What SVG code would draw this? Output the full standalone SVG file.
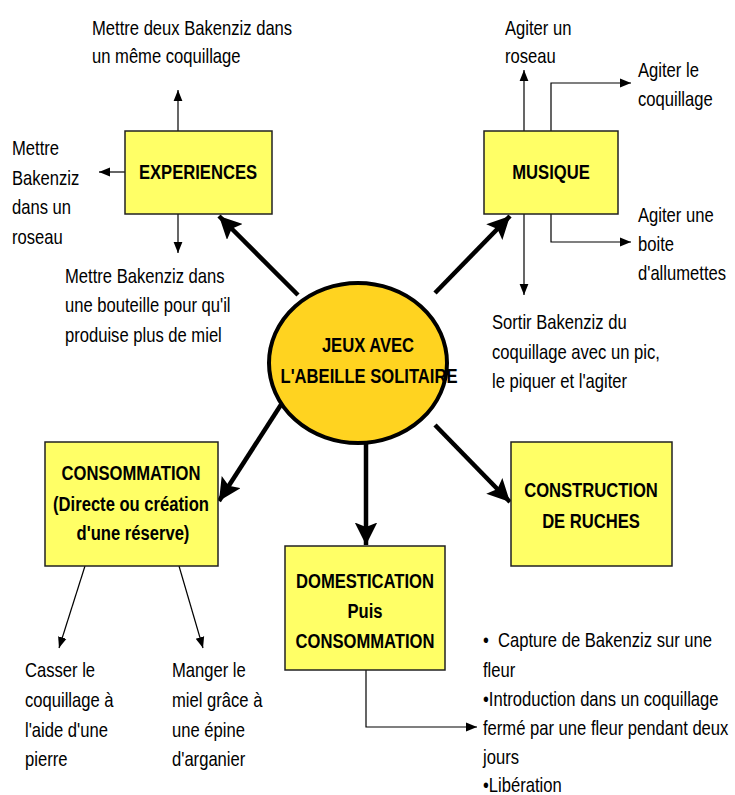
<svg xmlns="http://www.w3.org/2000/svg" width="735" height="795" viewBox="0 0 735 795">
<style>
text{font-family:"Liberation Sans",Arial,sans-serif;font-size:20.5px;fill:#000}
.b{font-weight:bold;text-anchor:middle}
.box{fill:#FFFF66;stroke:#222;stroke-width:1.5}
.thick{stroke:#000;stroke-width:4.5;fill:none}
.thin{stroke:#000;stroke-width:1.2;fill:none}
</style>
<defs>
<marker id="big" viewBox="0 0 10 10" refX="10" refY="5" markerWidth="5" markerHeight="5" markerUnits="strokeWidth" orient="auto"><path d="M0,0 L10,5 L0,10 L2,5 z" fill="#000"/></marker>
<marker id="sm" viewBox="0 0 10 10" refX="10" refY="5" markerWidth="11" markerHeight="11" markerUnits="userSpaceOnUse" orient="auto"><path d="M0,1 L10,5 L0,9 z" fill="#000"/></marker>
</defs>
<g id="connectors">
<line class="thick" x1="298" y1="295" x2="219" y2="216" marker-end="url(#big)"/>
<line class="thick" x1="435" y1="293" x2="510" y2="216" marker-end="url(#big)"/>
<line class="thick" x1="284" y1="400" x2="219" y2="501" marker-end="url(#big)"/>
<line class="thick" x1="366" y1="443" x2="366" y2="545" marker-end="url(#big)"/>
<line class="thick" x1="435" y1="425" x2="510" y2="502" marker-end="url(#big)"/>
<line class="thin" x1="178" y1="131" x2="178" y2="90" marker-end="url(#sm)"/>
<line class="thin" x1="125" y1="172" x2="99" y2="172" marker-end="url(#sm)"/>
<line class="thin" x1="178" y1="214" x2="178" y2="253" marker-end="url(#sm)"/>
<line class="thin" x1="524" y1="131" x2="524" y2="70" marker-end="url(#sm)"/>
<polyline class="thin" points="551,131 551,83 631,83" marker-end="url(#sm)"/>
<polyline class="thin" points="551,214 551,242 631,242" marker-end="url(#sm)"/>
<line class="thin" x1="524" y1="214" x2="524" y2="295" marker-end="url(#sm)"/>
<line class="thin" x1="85" y1="566" x2="59" y2="648" marker-end="url(#sm)"/>
<line class="thin" x1="179" y1="566" x2="203" y2="648" marker-end="url(#sm)"/>
<polyline class="thin" points="366,670 366,727 477,727" marker-end="url(#sm)"/>
</g>
<g id="center">
<ellipse cx="358" cy="363" rx="89" ry="80" fill="#FFD320" stroke="#000" stroke-width="4"/>
<text class="b" transform="translate(368 352) scale(0.81 1)">JEUX AVEC</text>
<text class="b" transform="translate(369 383) scale(0.81 1)">L'ABEILLE SOLITAIRE</text>
</g>
<g id="experiences">
<rect class="box" x="125" y="131" width="147" height="83"/>
<text class="b" transform="translate(198 179) scale(0.81 1)">EXPERIENCES</text>
</g>
<g id="musique">
<rect class="box" x="484" y="131" width="134" height="83"/>
<text class="b" transform="translate(551 179) scale(0.81 1)">MUSIQUE</text>
</g>
<g id="consommation">
<rect class="box" x="45" y="442" width="173" height="124"/>
<text class="b" transform="translate(131 480) scale(0.81 1)">CONSOMMATION</text>
<text class="b" transform="translate(131 511) scale(0.81 1)">(Directe ou création</text>
<text class="b" transform="translate(133 540) scale(0.81 1)">d'une réserve)</text>
</g>
<g id="domestication">
<rect class="box" x="285" y="546" width="160" height="124"/>
<text class="b" transform="translate(365 588) scale(0.81 1)">DOMESTICATION</text>
<text class="b" transform="translate(365 618) scale(0.81 1)">Puis</text>
<text class="b" transform="translate(365 648) scale(0.81 1)">CONSOMMATION</text>
</g>
<g id="construction">
<rect class="box" x="511" y="442" width="161" height="124"/>
<text class="b" transform="translate(591 497) scale(0.81 1)">CONSTRUCTION</text>
<text class="b" transform="translate(591 528) scale(0.81 1)">DE RUCHES</text>
</g>
<g id="labels">
<text transform="translate(92 35) scale(0.81 1)">Mettre deux Bakenziz dans</text>
<text transform="translate(92 63) scale(0.81 1)">un même coquillage</text>
<text transform="translate(12 155) scale(0.81 1)">Mettre</text>
<text transform="translate(12 185) scale(0.81 1)">Bakenziz</text>
<text transform="translate(12 214) scale(0.81 1)">dans un</text>
<text transform="translate(12 244) scale(0.81 1)">roseau</text>
<text transform="translate(65 283) scale(0.81 1)">Mettre Bakenziz dans</text>
<text transform="translate(65 312) scale(0.81 1)">une bouteille pour qu'il</text>
<text transform="translate(65 342) scale(0.81 1)">produise plus de miel</text>
<text transform="translate(505 35) scale(0.81 1)">Agiter un</text>
<text transform="translate(505 63) scale(0.81 1)">roseau</text>
<text transform="translate(638 77) scale(0.81 1)">Agiter le</text>
<text transform="translate(638 106) scale(0.81 1)">coquillage</text>
<text transform="translate(638 222) scale(0.81 1)">Agiter une</text>
<text transform="translate(638 251) scale(0.81 1)">boite</text>
<text transform="translate(638 280) scale(0.81 1)">d'allumettes</text>
<text transform="translate(492 329) scale(0.81 1)">Sortir Bakenziz du</text>
<text transform="translate(492 359) scale(0.81 1)">coquillage avec un pic,</text>
<text transform="translate(492 388) scale(0.81 1)">le piquer et l'agiter</text>
<text transform="translate(25 677) scale(0.81 1)">Casser le</text>
<text transform="translate(25 707) scale(0.81 1)">coquillage à</text>
<text transform="translate(25 737) scale(0.81 1)">l'aide d'une</text>
<text transform="translate(25 766) scale(0.81 1)">pierre</text>
<text transform="translate(172 677) scale(0.81 1)">Manger le</text>
<text transform="translate(172 707) scale(0.81 1)">miel grâce à</text>
<text transform="translate(172 737) scale(0.81 1)">une épine</text>
<text transform="translate(172 766) scale(0.81 1)">d'arganier</text>
<text transform="translate(483 647) scale(0.81 1)" xml:space="preserve">•  Capture de Bakenziz sur une</text>
<text transform="translate(483 677) scale(0.81 1)">fleur</text>
<text transform="translate(483 706) scale(0.81 1)">•Introduction dans un coquillage</text>
<text transform="translate(483 735) scale(0.81 1)">fermé par une fleur pendant deux</text>
<text transform="translate(483 764) scale(0.81 1)">jours</text>
<text transform="translate(483 792) scale(0.81 1)">•Libération</text>
</g>
</svg>
